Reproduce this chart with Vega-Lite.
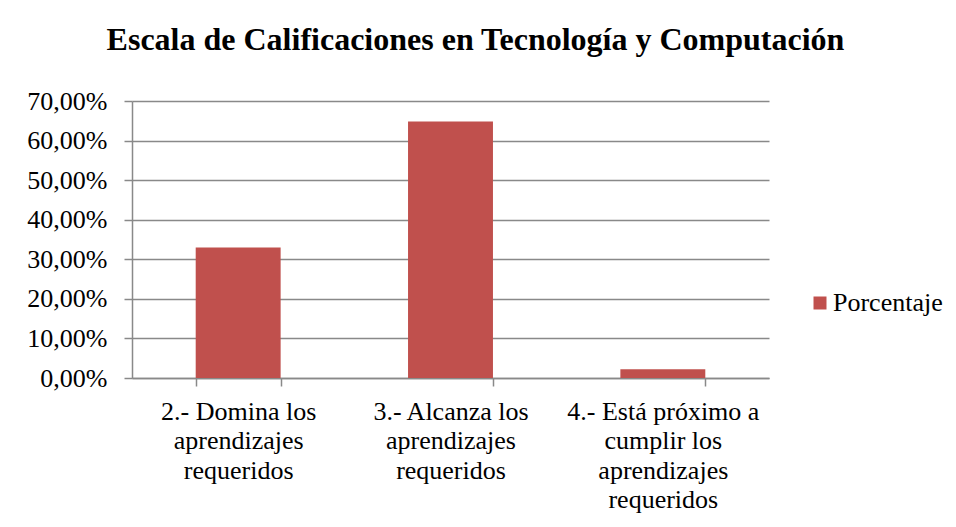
{
  "$schema": "https://vega.github.io/schema/vega-lite/v6.json",
  "width": 637,
  "height": 277,
  "autosize": "none",
  "padding": {"left": 132, "top": 101, "right": 187, "bottom": 149},
  "background": "white",
  "title": {
    "text": "Escala de Calificaciones en Tecnología y Computación",
    "font": "Liberation Serif",
    "fontSize": 32,
    "fontWeight": "bold",
    "color": "#000000",
    "anchor": "middle",
    "frame": "group",
    "dx": 25,
    "offset": 31
  },
  "data": {
    "values": [
      {"categoria": "2.- Domina los|aprendizajes|requeridos", "serie": "Porcentaje", "valor": 0.33},
      {"categoria": "3.- Alcanza los|aprendizajes|requeridos", "serie": "Porcentaje", "valor": 0.648},
      {"categoria": "4.- Está próximo a|cumplir los|aprendizajes|requeridos", "serie": "Porcentaje", "valor": 0.022}
    ]
  },
  "mark": {"type": "bar", "color": "#C0504D"},
  "encoding": {
    "x": {
      "field": "categoria",
      "type": "nominal",
      "sort": null,
      "scale": {"paddingInner": 0.6, "paddingOuter": 0.3},
      "axis": {
        "title": null,
        "labelAngle": 0,
        "labelExpr": "split(datum.label, '|')",
        "labelFont": "Liberation Serif",
        "labelFontSize": 26,
        "labelColor": "#000000",
        "labelLineHeight": 29.5,
        "labelPadding": 12,
        "labelLimit": 300,
        "tickBand": "extent",
        "tickSize": 8,
        "tickColor": "#898989",
        "tickWidth": 1.5,
        "domainColor": "#898989",
        "domainWidth": 1.5,
        "grid": false
      }
    },
    "y": {
      "field": "valor",
      "type": "quantitative",
      "scale": {"domain": [0, 0.7], "nice": false},
      "axis": {
        "title": null,
        "values": [0, 0.1, 0.2, 0.3, 0.4, 0.5, 0.6, 0.7],
        "labelExpr": "replace(format(datum.value, '.2%'), '.', ',')",
        "labelFont": "Liberation Serif",
        "labelFontSize": 26,
        "labelColor": "#000000",
        "labelPadding": 17,
        "tickSize": 8,
        "tickColor": "#898989",
        "tickWidth": 1.5,
        "domainColor": "#898989",
        "domainWidth": 1.5,
        "grid": true,
        "gridColor": "#898989",
        "gridWidth": 1.5
      }
    },
    "color": {
      "field": "serie",
      "type": "nominal",
      "scale": {"range": ["#C0504D"]},
      "legend": {
        "title": null,
        "orient": "none",
        "legendX": 675,
        "legendY": 189,
        "symbolType": "square",
        "symbolSize": 169,
        "symbolStrokeWidth": 0,
        "labelFont": "Liberation Serif",
        "labelFontSize": 26,
        "labelColor": "#000000",
        "labelOffset": 0
      }
    }
  },
  "config": {
    "view": {"stroke": null}
  }
}
